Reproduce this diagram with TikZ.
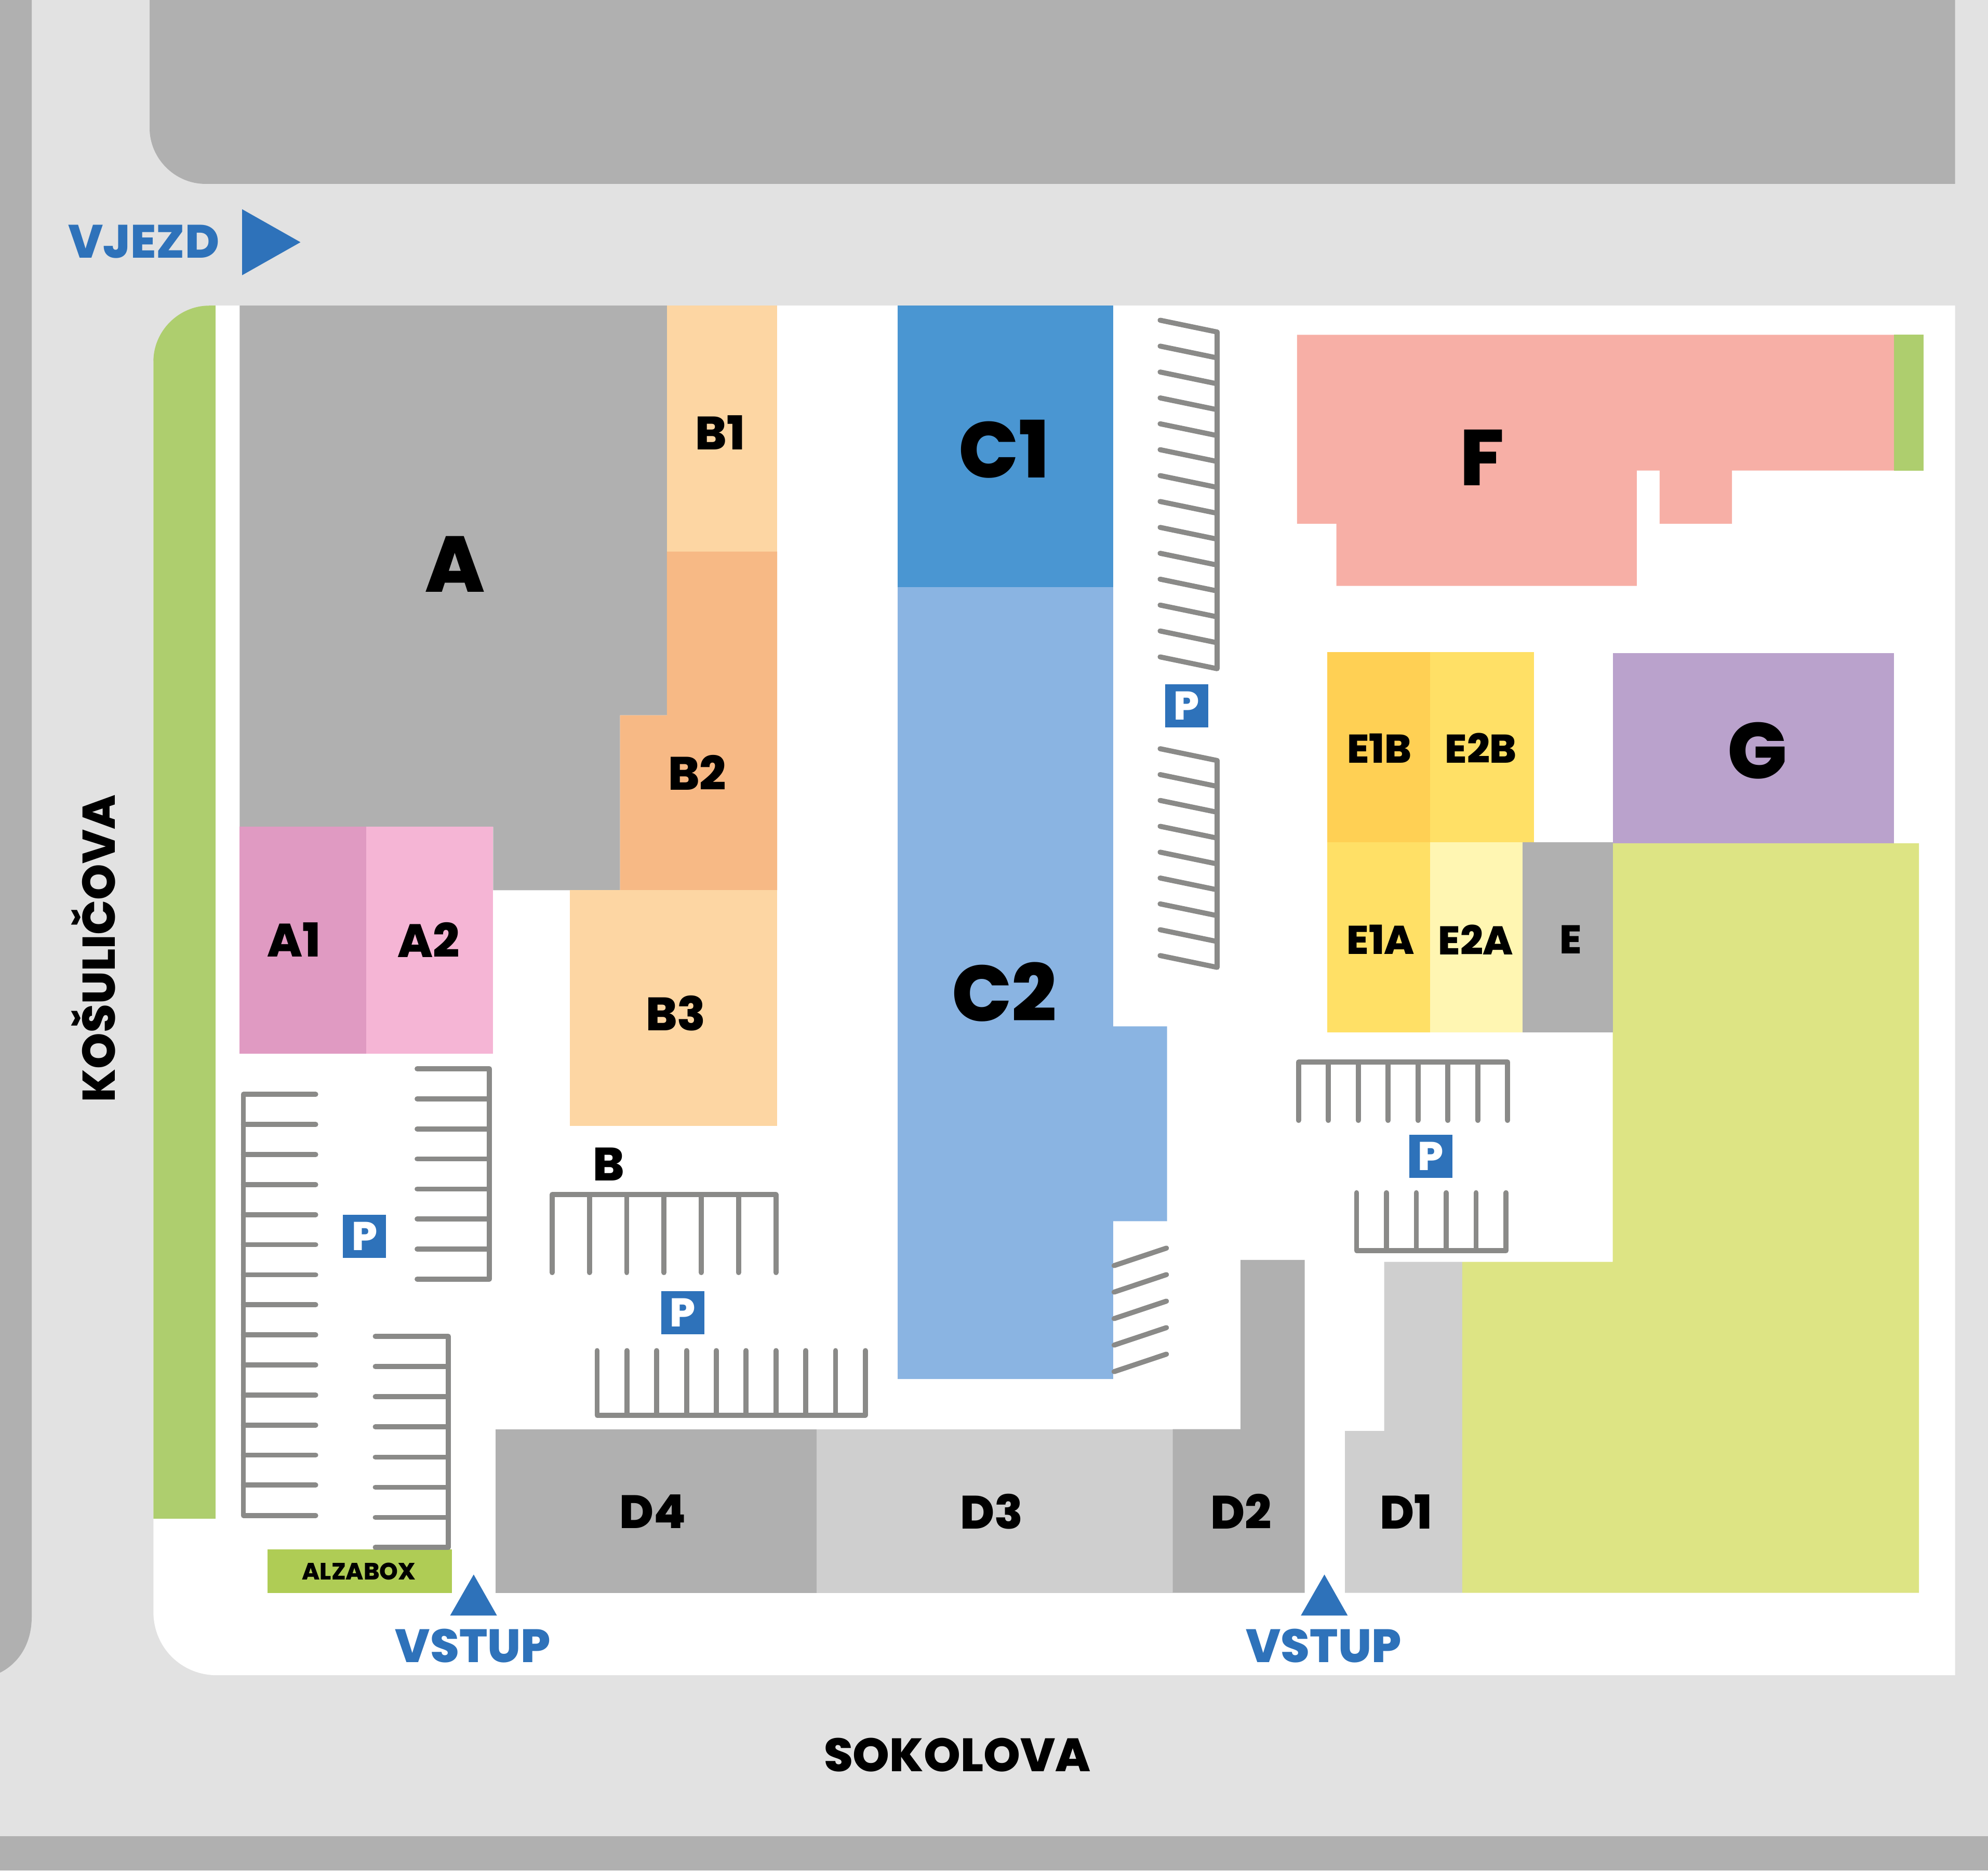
\documentclass[tikz,border=0pt]{standalone}
\usepackage{fontspec}
\setmainfont{Poppins ExtraBold}
\definecolor{road}{HTML}{E2E2E2}
\definecolor{block}{HTML}{B0B0B0}
\definecolor{blockl}{HTML}{CFCFCF}
\definecolor{grass}{HTML}{AECE6E}
\definecolor{alza}{HTML}{AFCC55}
\definecolor{lime}{HTML}{DDE484}
\definecolor{mainblue}{HTML}{2E72BA}
\definecolor{bayline}{HTML}{8A8A88}
\definecolor{aone}{HTML}{E09AC2}
\definecolor{atwo}{HTML}{F5B5D5}
\definecolor{bpale}{HTML}{FDD6A3}
\definecolor{btwo}{HTML}{F7B985}
\definecolor{cone}{HTML}{4A96D2}
\definecolor{ctwo}{HTML}{8AB4E2}
\definecolor{eonb}{HTML}{FFD054}
\definecolor{eyel}{HTML}{FFE066}
\definecolor{epale}{HTML}{FFF6B2}
\definecolor{gbox}{HTML}{BAA2CC}
\definecolor{fbox}{HTML}{F7AFA6}
\newcommand{\fsz}[1]{\fontsize{#1}{#1}\selectfont}
\begin{document}
\begin{tikzpicture}[x=0.02cm,y=-0.02cm,line join=round,line cap=round,
	bay/.style={draw=bayline,line width=0.08cm},
	big/.style={font=\fsz{35.5}},
	mid/.style={font=\fsz{21}},
	small/.style={font=\fsz{18}},
	blue/.style={text=mainblue,font=\fsz{21}},
	psign/.style={fill=mainblue,text=white,minimum size=0.68cm,inner sep=0pt,font=\fsz{18}}]
	\useasboundingbox (0,0) rectangle (1568,1475);
	% roads
	\fill[road] (0,0) rectangle (1568,1475);
	\fill[block] (0,0) -- (25,0) -- (25,1275) .. controls (25,1297) and (14,1312) .. (0,1319) -- cycle;
	\fill[block] (118,0) -- (118,101) .. controls (118,125) and (138,145) .. (162,145) -- (1542,145) -- (1542,0) -- cycle;
	\fill[block] (0,1448) rectangle (1568,1475);
	\fill[white] (165,241) -- (1542,241) -- (1542,1321) -- (171,1321) .. controls (143,1321) and (121,1299) .. (121,1271) -- (121,285) -- cycle;
	\fill[grass] (121,1197.5) -- (121,285) .. controls (121,261) and (141,241) .. (165,241) -- (170,241) -- (170,1197.5) -- cycle;
	% buildings
	\fill[block] (189,241) -- (526,241) -- (526,564) -- (489,564) -- (489,702) -- (389,702) -- (389,652) -- (189,652) -- cycle;
	\fill[aone] (189,652) rectangle (289,831);
	\fill[atwo] (289,652) rectangle (389,831);
	\fill[bpale] (526,241) rectangle (613,435);
	\fill[btwo] (526,435) -- (613,435) -- (613,702) -- (489,702) -- (489,564) -- (526,564) -- cycle;
	\fill[bpale] (449.5,702) rectangle (613,888);
	\fill[cone] (708,241) rectangle (878,463);
	\fill[ctwo] (708,463) -- (878,463) -- (878,809.3) -- (920.5,809.3) -- (920.5,963) -- (878,963) -- (878,1087.4) -- (708,1087.4) -- cycle;
	\fill[block] (391,1127) rectangle (644,1256);
	\fill[blockl] (644,1127) rectangle (925,1256);
	\fill[block] (925,1127) -- (978.5,1127) -- (978.5,993.5) -- (1029,993.5) -- (1029,1256) -- (925,1256) -- cycle;
	\fill[blockl] (1060.8,1256) -- (1060.8,1128.4) -- (1091.7,1128.4) -- (1091.7,995) -- (1153.3,995) -- (1153.3,1256) -- cycle;
	\fill[lime] (1272,665) -- (1513.5,665) -- (1513.5,1256) -- (1153.3,1256) -- (1153.3,995) -- (1272,995) -- cycle;
	\fill[eonb] (1047,514) rectangle (1128,664);
	\fill[eyel] (1128,514) rectangle (1210,664);
	\fill[eyel] (1047,664) rectangle (1128,814);
	\fill[epale] (1128,664) rectangle (1201,814);
	\fill[block] (1201,664) rectangle (1272,814);
	\fill[gbox] (1272,515) rectangle (1494,665);
	\fill[fbox] (1023,264) -- (1494,264) -- (1494,371) -- (1366,371) -- (1366,413) -- (1309,413) -- (1309,371) -- (1291,371) -- (1291,462) -- (1054,462) -- (1054,413) -- (1023,413) -- cycle;
	\fill[grass] (1494,264) rectangle (1517,371);
	\fill[alza] (211,1221.6) rectangle (356.6,1256);
	% parking bays
	\draw[bay] (249,863) -- (192,863) -- (192,1195) -- (249,1195);
	\foreach \i in {1,...,13} \draw[bay] (192,{863+23.7*\i}) -- +(57,0);
	\draw[bay] (329,842.8) -- (386,842.8) -- (386,1008.6) -- (329,1008.6);
	\foreach \i in {1,...,6} \draw[bay] (386,{842.8+23.7*\i}) -- +(-57,0);
	\draw[bay] (296,1053.8) -- (353.6,1053.8) -- (353.6,1220.2) -- (296,1220.2);
	\foreach \i in {1,...,6} \draw[bay] (353.6,{1053.8+23.8*\i}) -- +(-57.6,0);
	\draw[bay] (435.5,1003.5) -- (435.5,942) -- (612,942) -- (612,1003.5);
	\foreach \i in {1,...,5} \draw[bay] ({435.5+29.4*\i},942) -- +(0,61.5);
	\draw[bay] (471,1065) -- (471,1116) -- (682.5,1116) -- (682.5,1065);
	\foreach \i in {1,...,8} \draw[bay] ({471+23.5*\i},1116) -- +(0,-51);
	\draw[bay] (1024.2,883.5) -- (1024.2,837.5) -- (1189.1,837.5) -- (1189.1,883.5);
	\foreach \i in {1,...,6} \draw[bay] ({1024.2+23.56*\i},837.5) -- +(0,46);
	\draw[bay] (1070,940.5) -- (1070,986.2) -- (1187.9,986.2) -- (1187.9,940.5);
	\foreach \i in {1,...,4} \draw[bay] ({1070+23.56*\i},986.2) -- +(0,-45.7);
	\foreach \i in {0,...,4} \draw[bay] (878.7,{998+20.9*\i}) -- +(41.3,-13.8);
	\draw[bay] (915,252.5) -- (960,261.8) -- (960,527.3) -- (915,518);
	\foreach \i in {1,...,12} \draw[bay] (915,{252.5+20.42*\i}) -- +(45,9.3);
	\draw[bay] (915,590.4) -- (960,599.7) -- (960,762.8) -- (915,753.5);
	\foreach \i in {1,...,7} \draw[bay] (915,{590.4+20.39*\i}) -- +(45,9.3);
	% signs
	\node[psign] (p1) at (287.5,975) {P};
	\node[psign] (p2) at (538.5,1035) {P};
	\node[psign] (p3) at (936,556.4) {P};
	\node[psign] (p4) at (1128.4,911.7) {P};
	\fill[mainblue] (191,165) -- (237,191) -- (191,217) -- cycle;
	\fill[mainblue] (355,1274) -- (373.6,1241.6) -- (392,1274) -- cycle;
	\fill[mainblue] (1026,1274) -- (1044.6,1241.6) -- (1063,1274) -- cycle;
	% labels
	\node[big] (a) at (359,445) {A};
	\node[big] (c1) at (792,354) {C1};
	\node[big] (c2) at (792,782) {C2};
	\node[big] (f) at (1169,361) {F};
	\node[big] (g) at (1386,592) {G};
	\node[mid] (a1) at (232,741) {A1};
	\node[mid] (a2) at (338,741) {A2};
	\node[mid] (b1) at (568,341) {B1};
	\node[mid] (b2) at (550,609) {B2};
	\node[mid] (b3) at (533,799) {B3};
	\node[mid] (b) at (480,918) {B};
	\node[mid] (d4) at (515,1192) {D4};
	\node[mid] (d3) at (782,1192) {D3};
	\node[mid] (d2) at (979,1192) {D2};
	\node[mid] (d1) at (1109,1192) {D1};
	\node[small] (e1b) at (1088,590) {E1B};
	\node[small] (e2b) at (1168,590) {E2B};
	\node[small] (e1a) at (1089,741) {E1A};
	\node[small] (e2a) at (1164,741) {E2A};
	\node[small] (e) at (1239,741) {E};
	\node[font=\fsz{10.6}] (alzabox) at (283,1239) {ALZABOX};
	\node[blue] (vjezd) at (113.5,190.5) {VJEZD};
	\node[blue] (vstupa) at (373,1298) {VSTUP};
	\node[blue] (vstupb) at (1044,1298) {VSTUP};
	\node[font=\fsz{20.6},rotate=90] (kosulicova) at (73.5,748) {KOŠULIČOVA};
	\node[mid] (sokolova) at (755,1384) {SOKOLOVA};
\end{tikzpicture}
\end{document}
